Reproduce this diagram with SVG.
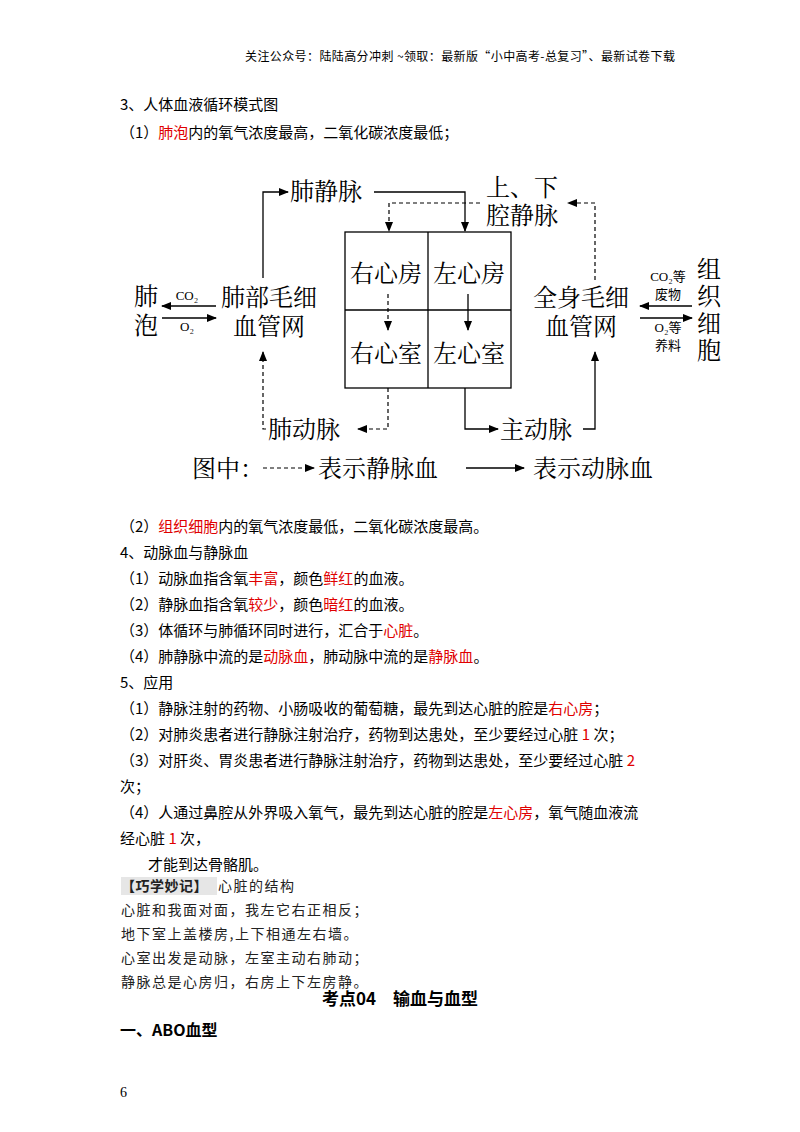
<svg xmlns="http://www.w3.org/2000/svg" width="800" height="1132" viewBox="0 0 800 1132">
<style>
.t{font-family:"Noto Sans CJK SC","Noto Sans",sans-serif;font-size:15px;fill:#000}
.r{fill:#e00000}
.d{font-family:"Noto Serif CJK SC","Liberation Serif","Noto Sans CJK SC",serif;font-size:24px;fill:#000}
.s{font-family:"Liberation Serif","Noto Sans CJK SC",serif;font-size:13px;fill:#000}
.k{font-family:"Noto Sans CJK SC",serif;font-size:14px;fill:#222;letter-spacing:1.5px}
.b{font-family:"Noto Sans CJK SC",sans-serif;font-size:17px;font-weight:bold;fill:#000}
.ln{fill:none;stroke:#000;stroke-width:1.3}
.ds{fill:none;stroke:#000;stroke-width:1.2;stroke-dasharray:4,3}
</style>
<defs>
<marker id="a" markerWidth="10" markerHeight="8" refX="9" refY="4" orient="auto" markerUnits="userSpaceOnUse"><path d="M0,0 L10,4 L0,8 Z" fill="#000"/></marker>
</defs>
<rect width="800" height="1132" fill="#fff"/>
<text class="t" x="245" y="61" style="font-size:12px;letter-spacing:0.4px">关注公众号：陆陆高分冲刺 ~领取：最新版“小中高考-总复习”、最新试卷下载</text>
<text class="t" x="120" y="110">3、人体血液循环模式图</text>
<text class="t" x="120" y="138">（1）<tspan class="r">肺泡</tspan>内的氧气浓度最高，二氧化碳浓度最低；</text>

<g id="heart">
<rect x="345" y="232" width="166" height="156" class="ln"/>
<line x1="428" y1="232" x2="428" y2="388" class="ln"/>
<line x1="345" y1="310" x2="511" y2="310" class="ln"/>
<text class="d" x="386" y="282" text-anchor="middle">右心房</text>
<text class="d" x="469" y="282" text-anchor="middle">左心房</text>
<text class="d" x="386" y="362" text-anchor="middle">右心室</text>
<text class="d" x="469" y="362" text-anchor="middle">左心室</text>
</g>
<g id="labels">
<text class="d" x="290" y="200">肺静脉</text>
<text class="d" x="486" y="196">上、下</text>
<text class="d" x="486" y="224">腔静脉</text>
<text class="d" x="134" y="305">肺</text>
<text class="d" x="134" y="334">泡</text>
<text class="s" x="187" y="300" text-anchor="middle">CO₂</text>
<text class="s" x="187" y="331" text-anchor="middle">O₂</text>
<text class="d" x="269" y="306" text-anchor="middle">肺部毛细</text>
<text class="d" x="269" y="335" text-anchor="middle">血管网</text>
<text class="d" x="581" y="306" text-anchor="middle">全身毛细</text>
<text class="d" x="581" y="335" text-anchor="middle">血管网</text>
<text class="s" x="668" y="281" text-anchor="middle">CO₂等</text>
<text class="s" x="668" y="299" text-anchor="middle">废物</text>
<text class="s" x="668" y="332" text-anchor="middle">O₂等</text>
<text class="s" x="668" y="350" text-anchor="middle">养料</text>
<text class="d" x="697" y="278">组</text>
<text class="d" x="697" y="305">织</text>
<text class="d" x="697" y="332">细</text>
<text class="d" x="697" y="359">胞</text>
<text class="d" x="268" y="438">肺动脉</text>
<text class="d" x="500" y="438">主动脉</text>
<text class="d" x="192" y="477">图中：</text>
<text class="d" x="318" y="477">表示静脉血</text>
<text class="d" x="533" y="477">表示动脉血</text>
</g>
<g id="connectors">
<path d="M263,278 V192 H288" class="ln" marker-end="url(#a)"/>
<path d="M374,192 H465 V231" class="ln" marker-end="url(#a)"/>
<path d="M480,203 H389 V231" class="ds" marker-end="url(#a)"/>
<path d="M595,280 V203 H568" class="ds" marker-end="url(#a)"/>
<path d="M388,294 V330" class="ds" marker-end="url(#a)"/>
<path d="M468,294 V330" class="ln" marker-end="url(#a)"/>
<path d="M216,306 H162" class="ln" marker-end="url(#a)"/>
<path d="M162,318 H216" class="ln" marker-end="url(#a)"/>
<path d="M692,306 H640" class="ln" marker-end="url(#a)"/>
<path d="M640,318 H692" class="ln" marker-end="url(#a)"/>
<path d="M388,388 V429 H358" class="ds" marker-end="url(#a)"/>
<path d="M266,429 H263 V352" class="ds" marker-end="url(#a)"/>
<path d="M465,388 V429 H498" class="ln" marker-end="url(#a)"/>
<path d="M583,429 H595 V352" class="ln" marker-end="url(#a)"/>
<path d="M263,468 H314" class="ds" marker-end="url(#a)"/>
<path d="M466,468 H524" class="ln" marker-end="url(#a)"/>
</g>

<text class="t" x="120" y="532">（2）<tspan class="r">组织细胞</tspan>内的氧气浓度最低，二氧化碳浓度最高。</text>
<text class="t" x="120" y="558">4、动脉血与静脉血</text>
<text class="t" x="120" y="584">（1）动脉血指含氧<tspan class="r">丰富</tspan>，颜色<tspan class="r">鲜红</tspan>的血液。</text>
<text class="t" x="120" y="610">（2）静脉血指含氧<tspan class="r">较少</tspan>，颜色<tspan class="r">暗红</tspan>的血液。</text>
<text class="t" x="120" y="636">（3）体循环与肺循环同时进行，汇合于<tspan class="r">心脏</tspan>。</text>
<text class="t" x="120" y="662">（4）肺静脉中流的是<tspan class="r">动脉血</tspan>，肺动脉中流的是<tspan class="r">静脉血</tspan>。</text>
<text class="t" x="120" y="688">5、应用</text>
<text class="t" x="120" y="714">（1）静脉注射的药物、小肠吸收的葡萄糖，最先到达心脏的腔是<tspan class="r">右心房</tspan>；</text>
<text class="t" x="120" y="740">（2）对肺炎患者进行静脉注射治疗，药物到达患处，至少要经过心脏 <tspan class="r">1</tspan> 次；</text>
<text class="t" x="120" y="766">（3）对肝炎、胃炎患者进行静脉注射治疗，药物到达患处，至少要经过心脏 <tspan class="r">2</tspan></text>
<text class="t" x="120" y="792">次；</text>
<text class="t" x="120" y="818">（4）人通过鼻腔从外界吸入氧气，最先到达心脏的腔是<tspan class="r">左心房</tspan>，氧气随血液流</text>
<text class="t" x="120" y="844">经心脏 <tspan class="r">1</tspan> 次，</text>
<text class="t" x="148" y="870">才能到达骨骼肌。</text>
<rect x="121" y="877" width="96" height="18" fill="#e6e6e6"/>
<text class="k" x="121" y="891" style="font-weight:bold;letter-spacing:0.5px">【巧学妙记】</text>
<text class="k" x="218" y="891">心脏的结构</text>
<text class="k" x="121" y="915">心脏和我面对面，我左它右正相反；</text>
<text class="k" x="121" y="939">地下室上盖楼房,上下相通左右墙。</text>
<text class="k" x="121" y="963">心室出发是动脉，左室主动右肺动；</text>
<text class="k" x="121" y="987">静脉总是心房归，右房上下左房静。</text>
<text class="b" x="400" y="1005" text-anchor="middle">考点04　输血与血型</text>
<text class="b" x="120" y="1036" style="font-size:16px">一、ABO血型</text>
<text x="120" y="1097" style="font-family:'Liberation Serif',serif;font-size:14px">6</text>
</svg>
